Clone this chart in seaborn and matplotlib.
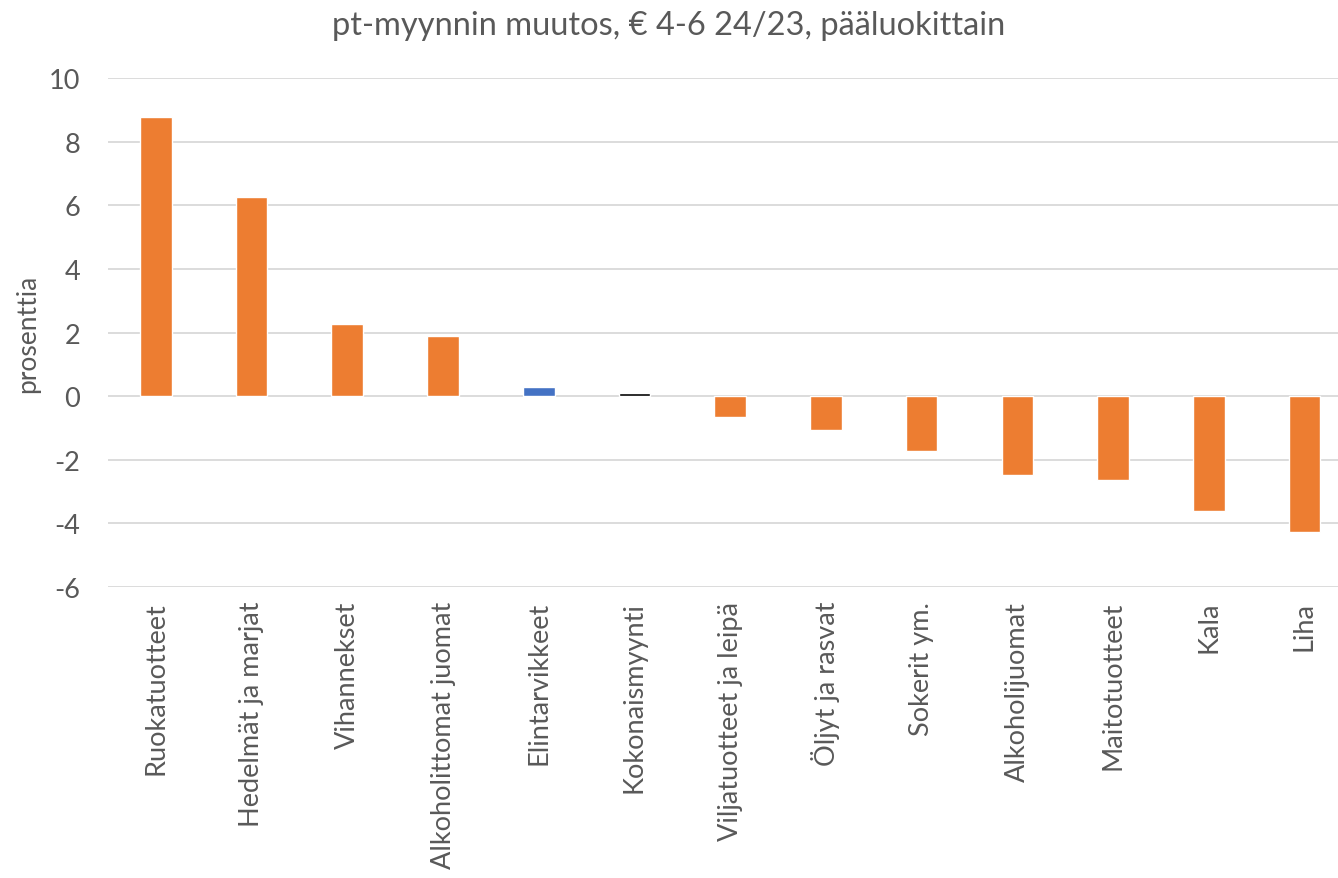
import matplotlib
matplotlib.use("Agg")
import matplotlib.pyplot as plt
import seaborn as sns
import pandas as pd

sns.set_theme(style="white")
plt.rcParams['font.family'] = ['Lato', 'DejaVu Sans']
plt.rcParams['axes.unicode_minus'] = False

# data
categories = ['Ruokatuotteet', 'Hedelmät ja marjat', 'Vihannekset', 'Alkoholittomat juomat',
              'Elintarvikkeet', 'Kokonaismyynti', 'Viljatuotteet ja leipä', 'Öljyt ja rasvat',
              'Sokerit ym.', 'Alkoholijuomat', 'Maitotuotteet', 'Kala', 'Liha']
values = [8.78, 6.27, 2.27, 1.9, 0.29, 0.09, -0.66, -1.06, -1.71, -2.47, -2.62, -3.61, -4.27]
colors = ['#ED7D31'] * 4 + ['#4472C4', '#000000'] + ['#ED7D31'] * 7

df = pd.DataFrame({'kategoria': categories, 'muutos': values})

text_col = '#595959'
fig = plt.figure(figsize=(13.38, 8.79), dpi=100)
ax = fig.add_axes([0.0807, 0.331, 0.9193, 0.579])

sns.barplot(data=df, x='kategoria', y='muutos', hue='kategoria', palette=colors,
            legend=False, width=0.33, ax=ax, saturation=1, zorder=3)

ax.set_ylim(-6, 10)
ax.set_yticks(range(-6, 11, 2))
ax.set_xlim(-0.5, 12.35)
ax.yaxis.grid(True, color='#D9D9D9', linewidth=1.3, zorder=0)
ax.set_axisbelow(True)
for s in ax.spines.values():
    s.set_visible(False)

ax.tick_params(axis='x', labelrotation=90, labelsize=19.5, colors=text_col, length=0, pad=10)
ax.tick_params(axis='y', labelsize=19.5, colors=text_col, length=0, pad=20)
ax.set_xlabel('')
ax.set_ylabel('prosenttia', fontsize=19, color=text_col, labelpad=6)

# title is centred on the whole figure
fig.suptitle('pt-myynnin muutos, € 4-6 24/23, pääluokittain', fontsize=23.5, color=text_col,
             x=0.5, y=0.987, va='top')

fig.savefig('out.png', dpi=100)
